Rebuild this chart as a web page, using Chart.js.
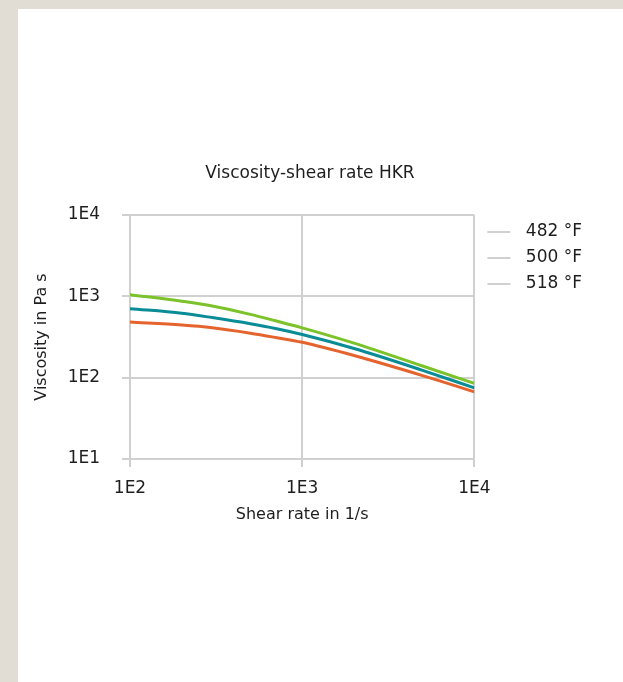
<!DOCTYPE html>
<html>
<head>
<meta charset="utf-8">
<title>Viscosity-shear rate HKR</title>
<script src="https://cdn.jsdelivr.net/npm/chart.js@4/dist/chart.umd.min.js"></script>
<style>
  html, body { margin: 0; padding: 0; }
  body { width: 623px; height: 682px; background: #e1dcd4; position: relative; overflow: hidden; }
  .panel { position: absolute; left: 18px; top: 9px; right: 0; bottom: 0; background: #fff; }
  .wrap { position: absolute; left: 0; top: 0; width: 623px; height: 682px; }
</style>
</head>
<body>
<div class="panel"></div>
<div class="wrap"><canvas id="chart" width="623" height="682"></canvas></div>
<script>
// Data (log-log)
const shearRates = [100, 200, 300, 500, 700, 1000, 2000, 5000, 10000];
const visc482 = [1046, 870, 762, 600, 500, 410, 266, 139, 85];
const visc500 = [706, 621, 548, 460, 402, 339, 228, 123, 75];
const visc518 = [482, 443, 410, 352, 312, 272, 187, 106, 67];
const seriesLabels = ['482 °F', '500 °F', '518 °F'];
const seriesColors = ['#7cc22a', '#0a8c96', '#e5642d'];

const xTickValues = [100, 1000, 10000];
const xTickLabels = ['1E2', '1E3', '1E4'];
const yTickValues = [10, 100, 1000, 10000];
const yTickLabels = ['1E1', '1E2', '1E3', '1E4'];

const GRID = '#d0d0d0';
const TEXT = '#1e1e1e';
const FONT = "'DejaVu Sans', sans-serif";

function toPoints(ys) {
  return shearRates.map((x, i) => ({ x: x, y: ys[i] }));
}

// gray legend marker (the legend in the original doesn't use series colours)
const legendMark = document.createElement('canvas');
legendMark.width = 34;
legendMark.height = 2;
(function () {
  const c = legendMark.getContext('2d');
  c.fillStyle = GRID;
  c.fillRect(4, 0, 23, 2);
})();

const ctx = document.getElementById('chart');
new Chart(ctx, {
  type: 'line',
  data: {
    datasets: [
      { label: seriesLabels[0], data: toPoints(visc482), borderColor: seriesColors[0] },
      { label: seriesLabels[1], data: toPoints(visc500), borderColor: seriesColors[1] },
      { label: seriesLabels[2], data: toPoints(visc518), borderColor: seriesColors[2] }
    ]
  },
  options: {
    responsive: false,
    animation: false,
    devicePixelRatio: 1,
    parsing: false,
    elements: {
      line: { borderWidth: 3, cubicInterpolationMode: 'monotone', fill: false },
      point: { radius: 0, hoverRadius: 0 }
    },
    layout: { padding: { left: 28, top: 163, right: 31, bottom: 154 } },
    scales: {
      x: {
        type: 'logarithmic',
        min: 100,
        max: 10000,
        afterBuildTicks: s => { s.ticks = xTickValues.map(v => ({ value: v })); },
        afterFit: s => { s.height = 69; },
        ticks: {
          autoSkip: false,
          maxRotation: 0,
          padding: 11,
          color: TEXT,
          font: { family: FONT, size: 17 },
          callback: v => xTickLabels[xTickValues.indexOf(v)]
        },
        grid: { color: GRID, lineWidth: 2, tickLength: 8, tickColor: GRID },
        border: { color: GRID, width: 2 },
        title: {
          display: true,
          text: 'Shear rate in 1/s',
          color: TEXT,
          font: { family: FONT, size: 16 },
          padding: { top: 7, bottom: 4 }
        }
      },
      y: {
        type: 'logarithmic',
        min: 10,
        max: 10000,
        afterBuildTicks: s => { s.ticks = yTickValues.map(v => ({ value: v })); },
        afterFit: s => { s.width = 102; },
        ticks: {
          autoSkip: false,
          padding: 22,
          color: TEXT,
          font: { family: FONT, size: 17 },
          callback: v => yTickLabels[yTickValues.indexOf(v)]
        },
        grid: { color: GRID, lineWidth: 2, tickLength: 8, tickColor: GRID },
        border: { color: GRID, width: 2 },
        title: {
          display: true,
          text: 'Viscosity in Pa s',
          color: TEXT,
          font: { family: FONT, size: 16 },
          padding: { top: 4, bottom: 18 }
        }
      }
    },
    plugins: {
      title: {
        display: true,
        text: 'Viscosity-shear rate HKR',
        color: TEXT,
        font: { family: FONT, size: 17, weight: 'normal' },
        padding: { top: 0, bottom: 31.6 }
      },
      legend: {
        position: 'right',
        align: 'start',
        title: {
          display: true,
          text: ' ',
          font: { family: FONT, size: 10 },
          padding: { top: 0, bottom: 39.5 }
        },
        labels: {
          usePointStyle: true,
          pointStyle: legendMark,
          pointStyleWidth: 34,
          boxHeight: 2,
          padding: 9,
          color: TEXT,
          font: { family: FONT, size: 17 }
        }
      },
      tooltip: { enabled: false }
    }
  }
});
</script>
</body>
</html>
